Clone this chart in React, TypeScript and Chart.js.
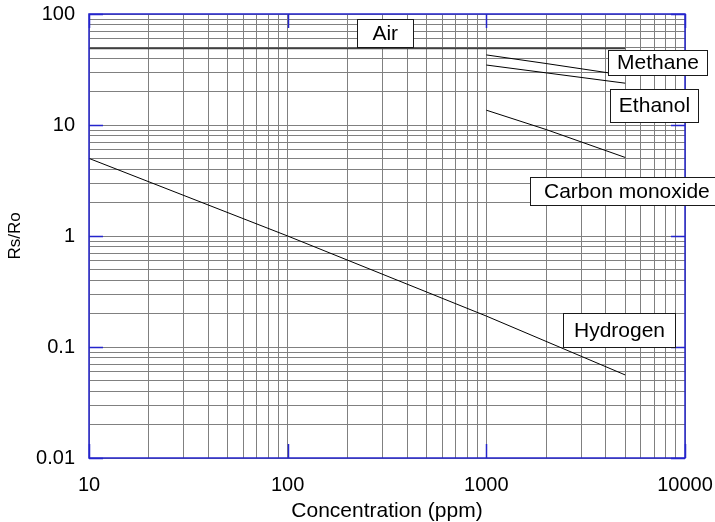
import React, { useEffect, useRef } from "react";
import { Chart, registerables } from "chart.js";

Chart.register(...registerables);

// Tick labels (decades)
const X_TICKS = [10, 100, 1000, 10000];
const Y_TICKS = [0.01, 0.1, 1, 10, 100];

// Series
const AIR_X = [10, 5000];
const AIR_Y = [49, 49];
const METHANE_X = [1000, 2000, 5000];
const METHANE_Y = [42.8, 35.8, 28];
const ETHANOL_X = [1000, 2000, 5000];
const ETHANOL_Y = [34.7, 29.5, 23.8];
const CO_X = [1000, 2000, 5000];
const CO_Y = [13.6, 9.1, 5.1];
const H2_X = [10, 100, 1000, 5000];
const H2_Y = [5, 1, 0.19, 0.056];

// Curve labels (text and anchor in data coordinates)
const LABEL_TEXT = ["Air", "Methane", "Ethanol", "Carbon monoxide", "Hydrogen"];
const LABEL_X = [310, 7310, 7020, 5100, 4680];
const LABEL_Y = [67.4, 36.6, 15.0, 2.54, 0.142];
const LABEL_BOX_W = [56, 99, 88, 193, 112];
const LABEL_BOX_H = [28, 25, 33, 28, 34];

const FONT = "'Liberation Sans', Arial, sans-serif";

function minorGrid(decades: number[]): number[] {
  const out: number[] = [];
  for (let i = 0; i < decades.length; i++) {
    const d = decades[i];
    if (i === decades.length - 1) {
      out.push(d);
    } else {
      for (let k = 1; k <= 9; k++) out.push(+(d * k).toPrecision(6));
    }
  }
  return out;
}

function pts(xs: number[], ys: number[]) {
  return xs.map((x, i) => ({ x, y: ys[i] }));
}

function zeroPad(s: any) {
  s.paddingTop = 0;
  s.paddingBottom = 0;
  s.paddingLeft = 0;
  s.paddingRight = 0;
}

const overlay = {
  id: "overlay",
  afterDatasetsDraw(chart: any) {
    const { ctx, chartArea: a, scales } = chart;
    const xs = scales.x;
    const ys = scales.y;
    ctx.save();
    // frame
    ctx.strokeStyle = "#2424cc";
    ctx.lineWidth = 1.5;
    ctx.strokeRect(a.left, a.top, a.right - a.left, a.bottom - a.top);
    // inner major ticks
    ctx.lineWidth = 1.5;
    ctx.beginPath();
    X_TICKS.forEach((v) => {
      const px = Math.round(xs.getPixelForValue(v)) + 0.5;
      ctx.moveTo(px, a.bottom);
      ctx.lineTo(px, a.bottom - 14);
      ctx.moveTo(px, a.top);
      ctx.lineTo(px, a.top + 14);
    });
    Y_TICKS.forEach((v) => {
      const py = Math.round(ys.getPixelForValue(v)) + 0.5;
      ctx.moveTo(a.left, py);
      ctx.lineTo(a.left + 14, py);
      ctx.moveTo(a.right, py);
      ctx.lineTo(a.right - 14, py);
    });
    ctx.stroke();
    // labels
    ctx.font = `21px ${FONT}`;
    ctx.textAlign = "center";
    ctx.textBaseline = "middle";
    LABEL_TEXT.forEach((t, i) => {
      const cx = xs.getPixelForValue(LABEL_X[i]);
      const cy = ys.getPixelForValue(LABEL_Y[i]);
      const w = LABEL_BOX_W[i];
      const h = LABEL_BOX_H[i];
      const l = Math.round(cx - w / 2) + 0.5;
      const tp = Math.round(cy - h / 2) + 0.5;
      ctx.fillStyle = "#ffffff";
      ctx.fillRect(l, tp, w, h);
      ctx.strokeStyle = "#1a1a1a";
      ctx.lineWidth = 1;
      ctx.strokeRect(l, tp, w, h);
      ctx.fillStyle = "#000000";
      ctx.fillText(t, cx, cy + 1);
    });
    ctx.restore();
  },
};

export default function App() {
  const ref = useRef<HTMLCanvasElement | null>(null);
  useEffect(() => {
    if (!ref.current) return;
    const lineDs = (data: any[], color = "#000000", width = 1) => ({
      data,
      borderColor: color,
      borderWidth: width,
      pointRadius: 0,
      fill: false,
      tension: 0,
    });
    const chart = new Chart(ref.current, {
      type: "line",
      data: {
        datasets: [
          lineDs(pts(AIR_X, AIR_Y), "#404040", 1.7),
          lineDs(pts(METHANE_X, METHANE_Y)),
          lineDs(pts(ETHANOL_X, ETHANOL_Y)),
          lineDs(pts(CO_X, CO_Y)),
          lineDs(pts(H2_X, H2_Y)),
        ] as any,
      },
      options: {
        responsive: false,
        animation: false,
        devicePixelRatio: 1,
        layout: { padding: { top: 14, right: 30, left: 0, bottom: 0 } },
        plugins: {
          legend: { display: false },
          tooltip: { enabled: false },
        },
        scales: {
          x: {
            type: "logarithmic",
            min: 10,
            max: 10000,
            position: "bottom",
            border: { display: false },
            grid: { color: "#808080", lineWidth: 1, drawTicks: false },
            afterBuildTicks: (s: any) => {
              s.ticks = minorGrid(X_TICKS).map((v) => ({ value: v }));
            },
            afterFit: (s: any) => {
              s.height = 64;
              zeroPad(s);
            },
            ticks: {
              autoSkip: false,
              maxRotation: 0,
              padding: 15,
              color: "#000",
              font: { family: FONT, size: 20 },
              callback: (v: any) => (X_TICKS.includes(Number(v)) ? String(v) : ""),
            },
            title: {
              display: true,
              text: "Concentration (ppm)",
              color: "#000",
              font: { family: FONT, size: 21, lineHeight: 1 },
              padding: { top: 0, bottom: 0 },
            },
          },
          y: {
            type: "logarithmic",
            min: 0.01,
            max: 100,
            border: { display: false },
            grid: { color: "#808080", lineWidth: 1, drawTicks: false },
            afterBuildTicks: (s: any) => {
              s.ticks = minorGrid(Y_TICKS).map((v) => ({ value: v }));
            },
            afterFit: (s: any) => {
              s.width = 89;
              zeroPad(s);
            },
            ticks: {
              autoSkip: false,
              padding: 14,
              color: "#000",
              font: { family: FONT, size: 20 },
              callback: (v: any) => (Y_TICKS.includes(Number(v)) ? String(v) : ""),
            },
            title: {
              display: true,
              text: "Rs/Ro",
              color: "#000",
              font: { family: FONT, size: 17, lineHeight: 1 },
              padding: { top: 7, bottom: 0 },
            },
          },
        },
      },
      plugins: [overlay],
    });
    return () => chart.destroy();
  }, []);
  return (
    <div style={{ position: "absolute", left: 0, top: 0, width: 715, height: 522, background: "#fff" }}>
      <canvas ref={ref} width={715} height={522} />
    </div>
  );
}
